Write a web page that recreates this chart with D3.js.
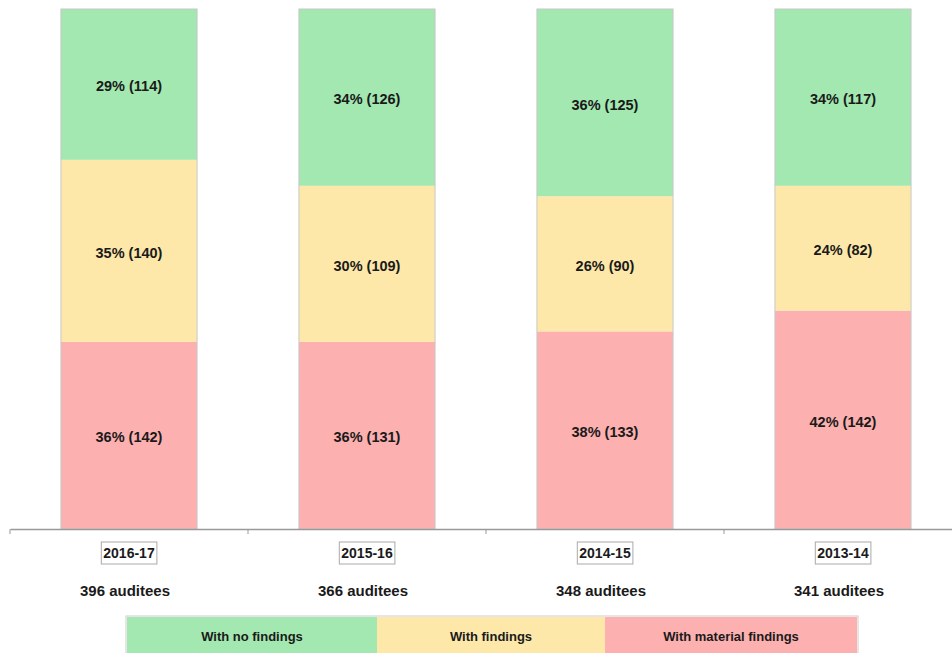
<!DOCTYPE html>
<html lang="en">
<head>
<meta charset="UTF-8">
<title>Audit outcomes</title>
<script src="https://d3js.org/d3.v7.min.js"></script>
<style>
  body { margin: 0; background: #fff; }
  text { font-family: "Liberation Sans", Arial, sans-serif; font-weight: bold; fill: #1a1a1a; }
</style>
</head>
<body>
<svg id="chart" width="952" height="653"></svg>
<script>
  // data
  const years = ["2016-17", "2015-16", "2014-15", "2013-14"];
  const auditees = [396, 366, 348, 341];
  const materialPct = [36, 36, 38, 42];
  const materialN = [142, 131, 133, 142];
  const findingsPct = [35, 30, 26, 24];
  const findingsN = [140, 109, 90, 82];
  const noFindingsPct = [29, 34, 36, 34];
  const noFindingsN = [114, 126, 125, 117];
  const legendLabels = ["With no findings", "With findings", "With material findings"];

  const colors = { material: "#fdb0b0", findings: "#fde8aa", none: "#a3e8b1" };

  const svg = d3.select("#chart");
  const baseY = 529, topY = 9;

  const x = d3.scaleBand().domain(years).range([10, 962]).padding(0);
  const y = d3.scaleLinear().domain([0, 100]).range([baseY, topY]);
  const barW = x.bandwidth() * 0.572;

  const rows = years.map((yr, i) => ({
    year: yr,
    material: materialPct[i], none: noFindingsPct[i], findings: findingsPct[i],
    n: { material: materialN[i], findings: findingsN[i], none: noFindingsN[i] }
  }));

  const series = d3.stack().keys(["material", "findings", "none"])(rows);

  const g = svg.append("g");
  series.forEach(s => {
    const grp = g.append("g");
    grp.selectAll("rect").data(s).enter().append("rect")
      .attr("x", d => x(d.data.year) + (x.bandwidth() - barW) / 2)
      .attr("y", d => y(d[1]))
      .attr("width", barW)
      .attr("height", d => y(d[0]) - y(d[1]))
      .attr("fill", colors[s.key]);
    grp.selectAll("text").data(s).enter().append("text")
      .attr("x", d => x(d.data.year) + x.bandwidth() / 2)
      .attr("y", d => (y(d[0]) + y(d[1])) / 2 + 2)
      .attr("dy", "0.35em")
      .attr("text-anchor", "middle")
      .attr("font-size", 14.5)
      .text(d => d.data[s.key] + "% (" + d.data.n[s.key] + ")");
  });

  // outline of each bar
  g.selectAll(".outline").data(rows).enter().append("rect")
    .attr("class", "outline")
    .attr("x", d => x(d.year) + (x.bandwidth() - barW) / 2)
    .attr("y", y(100))
    .attr("width", barW)
    .attr("height", y(0) - y(100))
    .attr("fill", "none")
    .attr("stroke", "#c8c8c8")
    .attr("stroke-width", 1);

  // x axis
  const axis = svg.append("g").attr("transform", `translate(0,${baseY})`)
    .call(d3.axisBottom(x).tickSize(0).tickFormat(""));
  axis.select(".domain").attr("stroke", "#999").attr("stroke-width", 1.5);
  axis.selectAll(".sep").data(years).enter().append("line")
    .attr("class", "sep")
    .attr("x1", d => x(d)).attr("x2", d => x(d))
    .attr("y1", 0).attr("y2", 5)
    .attr("stroke", "#999");

  // year labels in boxes
  years.forEach((yr, i) => {
    const cx = x(yr) + x.bandwidth() / 2;
    const lg = svg.append("g");
    const box = lg.append("rect");
    const t = lg.append("text")
      .attr("x", cx).attr("y", 553).attr("dy", "0.35em")
      .attr("text-anchor", "middle").attr("font-size", 14)
      .text(yr);
    const bb = t.node().getBBox();
    box.attr("x", bb.x - 2).attr("y", 542)
      .attr("width", bb.width + 4).attr("height", 22)
      .attr("fill", "#fff").attr("stroke", "#aaa");
    svg.append("text")
      .attr("x", cx - 4).attr("y", 591).attr("dy", "0.35em")
      .attr("text-anchor", "middle").attr("font-size", 15)
      .text(auditees[i] + " auditees");
  });

  // legend
  const legendColors = [colors.none, colors.findings, colors.material];
  const lx = d3.scaleOrdinal().domain(legendLabels).range([127, 377, 605]);
  const lw = [250, 228, 252];
  const leg = svg.append("g");
  leg.append("rect").attr("x", 126).attr("y", 616).attr("width", 732).attr("height", 40)
    .attr("fill", "none").attr("stroke", "#ccc");
  legendLabels.forEach((lab, i) => {
    leg.append("rect").attr("x", lx(lab)).attr("y", 617).attr("width", lw[i]).attr("height", 40)
      .attr("fill", legendColors[i]);
    leg.append("text").attr("x", lx(lab) + lw[i] / 2).attr("y", 636).attr("dy", "0.35em")
      .attr("text-anchor", "middle").attr("font-size", 13).text(lab);
  });
</script>
</body>
</html>
